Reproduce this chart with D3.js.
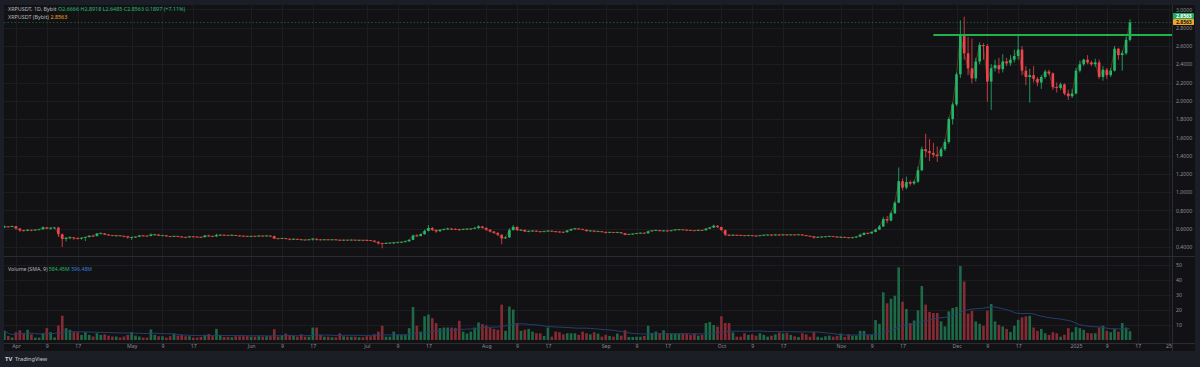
<!DOCTYPE html>
<html><head><meta charset="utf-8">
<script src="https://cdn.jsdelivr.net/npm/d3@7"></script>
<style>
html,body{margin:0;padding:0;background:#1b1e27;overflow:hidden;}
svg{display:block;}
text{font-family:"Noto Sans","DejaVu Sans",sans-serif;}
</style></head><body>
<svg id="chart" width="1200" height="367"></svg>
<script>
// ---------------- DATA ----------------
const startDate = "2024-03-29";       // first daily candle
const firstOpen = 0.612;               // open of first candle (later opens = previous close)
const closes = [
  0.625,0.620,0.628,
  0.603,0.583,0.578,0.588,0.584,0.589,0.593,0.615,0.602,0.610,0.612,0.540,0.488,0.500,0.505,0.497,0.490,0.500,0.508,0.522,0.519,0.547,0.550,0.537,0.530,0.524,0.527,0.522,0.518,0.506,
  0.508,0.512,0.525,0.523,0.520,0.535,0.537,0.525,0.528,0.518,0.514,0.520,0.515,0.508,0.505,0.515,0.512,0.510,0.507,0.525,0.520,0.516,0.530,0.533,0.530,0.528,0.531,0.525,0.522,0.520,0.518,
  0.520,0.519,0.523,0.521,0.524,0.520,0.494,0.492,0.496,0.491,0.482,0.488,0.484,0.480,0.478,0.482,0.490,0.482,0.479,0.482,0.480,0.482,0.479,0.474,0.478,0.476,0.479,0.475,0.477,0.476,
  0.474,0.470,0.458,0.443,0.436,0.444,0.446,0.449,0.451,0.455,0.462,0.478,0.525,0.520,0.540,0.575,0.608,0.588,0.572,0.588,0.595,0.600,0.596,0.594,0.590,0.596,0.598,0.600,0.606,0.625,0.610,
  0.590,0.570,0.555,0.535,0.495,0.505,0.585,0.620,0.585,0.588,0.570,0.575,0.578,0.572,0.566,0.572,0.578,0.572,0.568,0.565,0.562,0.580,0.595,0.602,0.598,0.590,0.575,0.580,0.570,0.572,0.566,
  0.556,0.563,0.558,0.562,0.552,0.535,0.540,0.545,0.550,0.555,0.550,0.572,0.580,0.584,0.576,0.580,0.575,0.582,0.590,0.592,0.589,0.585,0.582,0.580,0.585,0.583,0.600,0.612,0.632,0.618,
  0.585,0.535,0.526,0.532,0.530,0.528,0.524,0.528,0.524,0.521,0.527,0.532,0.534,0.530,0.535,0.532,0.536,0.533,0.536,0.534,0.537,0.530,0.522,0.518,0.505,0.510,0.512,0.515,0.518,0.514,0.508,
  0.510,0.506,0.500,0.505,0.512,0.532,0.552,0.548,0.565,0.590,0.625,0.705,0.690,0.770,0.885,1.120,1.050,1.110,1.095,1.115,1.240,1.470,1.450,1.430,1.410,1.395,1.470,1.550,1.800,1.960,
  2.290,2.720,2.520,2.355,2.245,2.430,2.610,2.600,2.210,2.355,2.390,2.345,2.430,2.410,2.450,2.490,2.560,2.330,2.260,2.280,2.240,2.200,2.260,2.320,2.300,2.150,2.140,2.180,2.080,2.050,2.080,
  2.330,2.400,2.450,2.420,2.400,2.420,2.260,2.340,2.280,2.330,2.570,2.500,2.520,2.6666,2.8563
];
const highs = [
  0.634,0.627,0.632,
  0.630,0.605,0.590,0.594,0.590,0.592,0.598,0.624,0.618,0.614,0.620,0.622,0.548,0.506,0.518,0.508,0.505,0.507,0.512,0.528,0.535,0.552,0.560,0.552,0.540,0.532,0.530,0.530,0.524,0.522,
  0.512,0.515,0.530,0.530,0.527,0.550,0.542,0.538,0.531,0.532,0.520,0.523,0.524,0.518,0.512,0.520,0.519,0.515,0.513,0.530,0.535,0.524,0.545,0.537,0.536,0.533,0.538,0.533,0.528,0.525,0.523,
  0.522,0.523,0.528,0.526,0.528,0.527,0.524,0.497,0.499,0.498,0.493,0.495,0.491,0.488,0.483,0.485,0.498,0.495,0.486,0.486,0.485,0.484,0.484,0.481,0.481,0.480,0.482,0.481,0.479,0.479,
  0.482,0.477,0.472,0.460,0.447,0.448,0.451,0.455,0.456,0.460,0.468,0.485,0.535,0.540,0.548,0.590,0.640,0.620,0.592,0.595,0.600,0.612,0.610,0.605,0.600,0.600,0.606,0.604,0.620,0.638,0.630,
  0.614,0.595,0.575,0.560,0.537,0.515,0.605,0.640,0.625,0.595,0.592,0.580,0.584,0.582,0.575,0.575,0.583,0.580,0.575,0.572,0.568,0.585,0.600,0.610,0.606,0.600,0.592,0.586,0.582,0.578,0.575,
  0.568,0.567,0.565,0.566,0.564,0.555,0.543,0.548,0.553,0.558,0.558,0.578,0.585,0.590,0.586,0.584,0.583,0.586,0.595,0.598,0.594,0.591,0.588,0.585,0.590,0.588,0.605,0.620,0.645,0.640,
  0.625,0.592,0.540,0.537,0.535,0.533,0.530,0.532,0.530,0.526,0.530,0.536,0.538,0.540,0.540,0.540,0.540,0.540,0.539,0.538,0.541,0.538,0.532,0.525,0.520,0.514,0.516,0.519,0.522,0.520,0.517,
  0.515,0.514,0.508,0.510,0.518,0.545,0.560,0.560,0.570,0.600,0.640,0.730,0.740,0.790,0.900,1.270,1.150,1.170,1.130,1.130,1.280,1.500,1.640,1.580,1.540,1.500,1.490,1.580,1.820,1.980,
  2.310,2.880,2.920,2.700,2.680,2.470,2.640,2.630,2.620,2.400,2.450,2.470,2.510,2.470,2.500,2.560,2.720,2.600,2.380,2.350,2.380,2.260,2.280,2.340,2.340,2.310,2.200,2.200,2.190,2.120,2.130,
  2.360,2.440,2.460,2.500,2.440,2.460,2.450,2.380,2.360,2.360,2.600,2.580,2.550,2.700,2.8918
];
const lows = [
  0.610,0.615,0.618,
  0.590,0.565,0.570,0.573,0.572,0.580,0.585,0.590,0.596,0.590,0.603,0.510,0.400,0.460,0.485,0.478,0.483,0.480,0.466,0.505,0.514,0.517,0.540,0.530,0.522,0.519,0.513,0.518,0.505,0.490,
  0.478,0.500,0.507,0.518,0.515,0.518,0.528,0.520,0.518,0.514,0.508,0.510,0.508,0.503,0.498,0.503,0.508,0.507,0.503,0.505,0.515,0.512,0.508,0.524,0.527,0.524,0.525,0.520,0.517,0.514,0.514,
  0.515,0.514,0.516,0.515,0.518,0.514,0.487,0.488,0.490,0.486,0.474,0.478,0.478,0.472,0.474,0.475,0.470,0.470,0.474,0.476,0.476,0.478,0.476,0.466,0.470,0.471,0.472,0.471,0.472,0.471,
  0.470,0.466,0.452,0.425,0.386,0.432,0.437,0.430,0.443,0.447,0.450,0.458,0.475,0.512,0.516,0.535,0.570,0.575,0.555,0.568,0.580,0.588,0.585,0.585,0.575,0.585,0.590,0.592,0.596,0.598,0.602,
  0.575,0.560,0.545,0.520,0.430,0.488,0.500,0.580,0.575,0.578,0.565,0.562,0.568,0.565,0.560,0.562,0.568,0.566,0.560,0.558,0.556,0.558,0.575,0.590,0.592,0.585,0.568,0.570,0.562,0.565,0.560,
  0.550,0.552,0.553,0.554,0.548,0.528,0.532,0.537,0.542,0.546,0.545,0.546,0.568,0.576,0.570,0.572,0.570,0.572,0.580,0.585,0.584,0.580,0.577,0.575,0.578,0.578,0.580,0.596,0.608,0.610,
  0.578,0.520,0.518,0.522,0.526,0.523,0.519,0.521,0.519,0.515,0.518,0.525,0.529,0.526,0.527,0.527,0.529,0.529,0.530,0.530,0.531,0.526,0.518,0.513,0.492,0.500,0.506,0.509,0.512,0.509,0.503,
  0.503,0.502,0.495,0.496,0.500,0.508,0.528,0.540,0.545,0.560,0.585,0.620,0.660,0.680,0.760,0.880,1.020,1.030,1.070,1.080,1.100,1.230,1.380,1.340,1.380,1.330,1.380,1.450,1.530,1.740,
  1.940,2.250,2.450,2.280,2.190,2.210,2.400,2.450,1.990,1.900,2.320,2.300,2.310,2.380,2.380,2.420,2.450,2.280,2.170,1.980,2.200,2.160,2.130,2.240,2.280,2.120,2.090,2.120,2.060,2.010,2.030,
  2.070,2.310,2.380,2.400,2.380,2.370,2.240,2.220,2.240,2.260,2.320,2.450,2.330,2.500,2.6485
];
// daily volume, in hundreds of millions XRP
const volumes = [
  6.1,2.7,1.6,
  5.2,6.5,4.0,6.8,3.8,1.6,1.6,4.5,7.9,5.2,1.8,9.7,16.2,7.9,6.8,5.2,5.2,3.4,5.2,3.4,2.3,4.5,3.4,3.8,2.9,2.3,2.3,1.6,2.3,3.4,
  5.2,2.9,2.3,1.6,1.6,7.0,3.4,2.5,2.5,1.6,2.5,4.3,2.9,3.4,2.5,2.5,1.6,1.6,2.0,3.4,4.0,2.5,7.4,3.4,2.0,2.0,1.8,2.5,2.5,2.5,2.5,
  2.2,2.2,2.5,2.2,2.5,2.5,7.2,2.2,2.9,4.3,3.4,2.7,2.2,3.8,2.2,2.2,8.3,8.3,3.4,2.2,2.2,1.8,1.8,4.5,2.5,2.2,2.2,2.2,1.8,1.8,
  2.5,2.5,3.8,5.6,9.5,2.2,2.2,5.6,3.4,3.4,3.4,7.9,22.0,9.5,5.6,15.8,17.0,14.6,11.3,7.9,8.3,8.3,8.3,8.1,12.8,5.6,4.3,5.6,8.3,11.7,10.6,
  9.7,8.3,7.4,6.8,23.6,6.1,22.3,20.3,11.3,6.1,6.8,7.4,5.6,4.5,4.5,2.7,8.3,2.2,5.6,5.2,3.8,4.5,4.5,4.5,3.4,5.6,4.5,3.8,5.2,4.3,2.2,
  3.4,2.7,2.2,4.3,2.9,6.5,2.0,2.0,2.2,2.2,2.7,9.5,4.7,5.6,4.5,6.5,4.3,4.3,4.3,4.3,4.3,4.3,3.4,4.3,2.9,3.4,11.3,12.0,10.0,9.0,
  15.8,11.3,11.3,5.0,2.2,2.2,4.5,3.4,3.8,2.9,4.5,3.4,2.2,2.9,3.8,5.0,4.3,4.7,3.4,2.5,2.0,4.5,3.8,2.2,5.2,2.2,1.6,2.5,2.9,2.2,2.7,
  4.3,2.0,3.8,2.9,2.9,6.1,6.1,3.4,3.4,13.3,10.8,31.8,24.5,27.5,29.5,48.4,25.5,20.7,11.3,13.0,19.8,36.0,23.6,18.7,18.0,18.0,12.4,9.0,19.1,21.4,
  22.0,49.3,39.0,17.6,19.4,12.4,10.8,9.5,19.6,24.0,12.4,10.1,9.0,7.4,5.4,9.5,13.5,15.1,15.8,16.2,8.3,6.1,7.4,4.5,3.4,5.2,4.5,2.2,3.5,7.9,5.2,
  8.6,7.9,6.8,4.7,4.5,4.5,8.3,9.5,6.1,5.2,7.4,5.6,11.3,8.3,5.8445
];
const smaLength = 30;
const priceTicks = [0.4,0.6,0.8,1.0,1.2,1.4,1.6,1.8,2.0,2.2,2.4,2.6,2.8,3.0];
const volumeTicks = [10,20,30,40,50];
const volumeTickLabels = ["10","20","30","40","50"];
const timeTickDates = ["2024-04-01","2024-04-09","2024-04-17","2024-05-01","2024-05-09","2024-05-17","2024-06-01","2024-06-09","2024-06-17","2024-07-01","2024-07-09","2024-07-17","2024-08-01","2024-08-09","2024-08-17","2024-09-01","2024-09-09","2024-09-17","2024-10-01","2024-10-09","2024-10-17","2024-11-01","2024-11-09","2024-11-17","2024-12-01","2024-12-09","2024-12-17","2025-01-01","2025-01-09","2025-01-17","2025-01-25"];
const timeTickLabels = ["Apr","9","17","May","9","17","Jun","9","17","Jul","9","17","Aug","9","17","Sep","9","17","Oct","9","17","Nov","9","17","Dec","9","17","2025","9","17","25"];
const resistanceLevel = [2.72];
const resistanceStart = ["2024-11-25"];
const lastPrice = [2.8563];
const headerSymbol = "XRPUSDT, 1D, Bybit";
const headerValues = "O2.6666 H2.8918 L2.6485 C2.8563 0.1897 (+7.11%)";
const compareSymbol = "XRPUSDT (Bybit)";
const volumeLegend = ["Volume (SMA, 9)", "584.45M", "596.48M"];

// ---------------- LAYOUT ----------------
const L = 4, R = 1172, T = 5, PB = 256, VT = 257, VB = 343, AB = 351, AXR = 1195;
const parse = d3.utcParse("%Y-%m-%d");
const t0 = parse(startDate);
const bars = closes.map((c, i) => ({
  date: d3.utcDay.offset(t0, i),
  open: i === 0 ? firstOpen : closes[i - 1],
  high: highs[i], low: lows[i], close: c, vol: volumes[i]
}));
bars.forEach((b, i) => {
  const w = bars.slice(Math.max(0, i - smaLength + 1), i + 1);
  b.sma = d3.mean(w, d => d.vol);
});

const x = d3.scaleUtc().domain([Date.UTC(2024,3,1), Date.UTC(2025,0,1)]).range([16, 1076]);
const y = d3.scaleLinear().domain([0.4, 3.0]).range([247, 9.4]);
const yv = d3.scaleLinear().domain([0, 50]).range([340, 265]);

const UP = "#22b86a", DOWN = "#f0434f";
const VUP = "#1d6a49", VDOWN = "#862b33";
const GRID = "#1c1d23";

const svg = d3.select("#chart");
svg.append("rect").attr("width", 1200).attr("height", 367).attr("fill", "#1b1e27");
svg.append("rect").attr("x", L).attr("y", T).attr("width", AXR - L).attr("height", AB - T).attr("fill", "#121215");

const defs = svg.append("defs");
defs.append("clipPath").attr("id", "cp").append("rect").attr("x", L).attr("y", T).attr("width", R - L).attr("height", PB - T);
defs.append("clipPath").attr("id", "cv").append("rect").attr("x", L).attr("y", VT).attr("width", R - L).attr("height", VB - VT);

// grid
const grid = svg.append("g");
const tickDates = timeTickDates.map(parse);
grid.selectAll(".vg").data(tickDates).join("line")
  .attr("x1", d => Math.round(x(d)) + 0.5).attr("x2", d => Math.round(x(d)) + 0.5)
  .attr("y1", T).attr("y2", VB).attr("stroke", GRID).attr("stroke-width", 1);
grid.selectAll(".hg").data(priceTicks).join("line")
  .attr("x1", L).attr("x2", R).attr("y1", d => Math.round(y(d)) + 0.5).attr("y2", d => Math.round(y(d)) + 0.5)
  .attr("stroke", GRID);
grid.selectAll(".hv").data(volumeTicks).join("line")
  .attr("x1", L).attr("x2", R).attr("y1", d => Math.round(yv(d)) + 0.5).attr("y2", d => Math.round(yv(d)) + 0.5)
  .attr("stroke", GRID);

// separators
svg.append("line").attr("x1", L).attr("x2", AXR).attr("y1", PB + 0.5).attr("y2", PB + 0.5).attr("stroke", "#2a2c33");
svg.append("line").attr("x1", L).attr("x2", AXR).attr("y1", VB + 0.5).attr("y2", VB + 0.5).attr("stroke", "#2a2c33");
svg.append("line").attr("x1", R + 0.5).attr("x2", R + 0.5).attr("y1", T).attr("y2", AB).attr("stroke", "#2a2c33");

// price pane
const pg = svg.append("g").attr("clip-path", "url(#cp)");
const bw = 2.6;
pg.append("line").attr("x1", L).attr("x2", R).attr("y1", y(lastPrice[0])).attr("y2", y(lastPrice[0]))
  .attr("stroke", UP).attr("stroke-opacity", 0.7).attr("stroke-width", 0.6).attr("stroke-dasharray", "1.5,2");
pg.append("path").datum(bars)
  .attr("d", d3.line().x(d => x(d.date)).y(d => y(d.close)))
  .attr("fill", "none").attr("stroke", "#b9761a").attr("stroke-opacity", 0.55).attr("stroke-width", 0.7);
const cg = pg.selectAll(".c").data(bars).join("g");
cg.append("line")
  .attr("x1", d => x(d.date)).attr("x2", d => x(d.date))
  .attr("y1", d => y(d.high)).attr("y2", d => y(d.low))
  .attr("stroke", d => d.close >= d.open ? UP : DOWN).attr("stroke-width", 0.8);
cg.append("rect")
  .attr("x", d => x(d.date) - bw / 2).attr("width", bw)
  .attr("y", d => y(Math.max(d.open, d.close)))
  .attr("height", d => Math.max(0.8, Math.abs(y(d.open) - y(d.close))))
  .attr("fill", d => d.close >= d.open ? UP : DOWN);
pg.append("line")
  .attr("x1", x(parse(resistanceStart[0]))).attr("x2", R)
  .attr("y1", y(resistanceLevel[0])).attr("y2", y(resistanceLevel[0]))
  .attr("stroke", "#1fb34e").attr("stroke-width", 2);

// volume pane
const vg = svg.append("g").attr("clip-path", "url(#cv)");
vg.selectAll("rect").data(bars).join("rect")
  .attr("x", d => x(d.date) - bw / 2).attr("width", bw)
  .attr("y", d => yv(d.vol)).attr("height", d => yv(0) - yv(d.vol))
  .attr("fill", d => d.close >= d.open ? VUP : VDOWN);
vg.append("path").datum(bars)
  .attr("d", d3.line().curve(d3.curveBasis).x(d => x(d.date)).y(d => yv(d.sma)))
  .attr("fill", "none").attr("stroke", "#22406e").attr("stroke-width", 1);

// axes
const axisStyle = g => {
  g.select(".domain").remove();
  g.selectAll("text").attr("fill", "#8b8e96").style("font-size", "5.2px").style("font-family", "Noto Sans, DejaVu Sans, sans-serif");
};
svg.append("g").attr("transform", `translate(${R + 4},0)`)
  .call(d3.axisRight(y).tickValues(priceTicks).tickSize(0).tickPadding(0).tickFormat(d3.format(".4f")))
  .call(axisStyle);
svg.append("g").attr("transform", `translate(${R + 4},0)`)
  .call(d3.axisRight(yv).tickValues(volumeTicks).tickSize(0).tickPadding(0).tickFormat((d, i) => volumeTickLabels[i]))
  .call(axisStyle);
svg.append("g").attr("transform", `translate(0,${VB})`)
  .call(d3.axisBottom(x).tickValues(tickDates).tickSize(0).tickPadding(1.5).tickFormat((d, i) => timeTickLabels[i]))
  .call(axisStyle);

// price tags
const tags = [{v: lastPrice[0], fill: "#1fa866", txt: "#ffffff", dy: -6.5}, {v: lastPrice[0], fill: "#f5a623", txt: "#1b1b1b", dy: -0.5}];
tags.forEach(t => {
  const yy = y(t.v) + t.dy;
  svg.append("rect").attr("x", R + 1).attr("y", yy - 3).attr("width", 21).attr("height", 6).attr("rx", 0.8).attr("fill", t.fill);
  svg.append("text").attr("x", R + 4).attr("y", yy + 1.8).attr("fill", t.txt).style("font-size", "5px").style("font-weight", "bold").text(d3.format(".4f")(t.v));
});

// legends
const h1 = svg.append("text").attr("x", 8).attr("y", 11).style("font-size", "5.4px");
h1.append("tspan").attr("fill", "#b2b5be").text(headerSymbol + "  ");
h1.append("tspan").attr("fill", "#22b86a").text(headerValues);
const h2 = svg.append("text").attr("x", 8).attr("y", 19).style("font-size", "5.4px");
h2.append("tspan").attr("fill", "#b2b5be").text(compareSymbol + "  ");
h2.append("tspan").attr("fill", "#f5a623").text(lastPrice[0].toFixed(4));
const h3 = svg.append("text").attr("x", 8).attr("y", 271).style("font-size", "5.2px");
h3.append("tspan").attr("fill", "#b2b5be").text(volumeLegend[0] + "  ");
h3.append("tspan").attr("fill", "#22b86a").text(volumeLegend[1] + " ");
h3.append("tspan").attr("fill", "#2f7fd8").text(volumeLegend[2]);

// TradingView footer
svg.append("text").attr("x", 5).attr("y", 361).attr("fill", "#d1d4dc").style("font-size", "6px").style("font-weight", "bold").text("TV");
svg.append("text").attr("x", 15).attr("y", 361).attr("fill", "#c3c6ce").style("font-size", "5.6px").text("TradingView");
</script>
</body></html>
